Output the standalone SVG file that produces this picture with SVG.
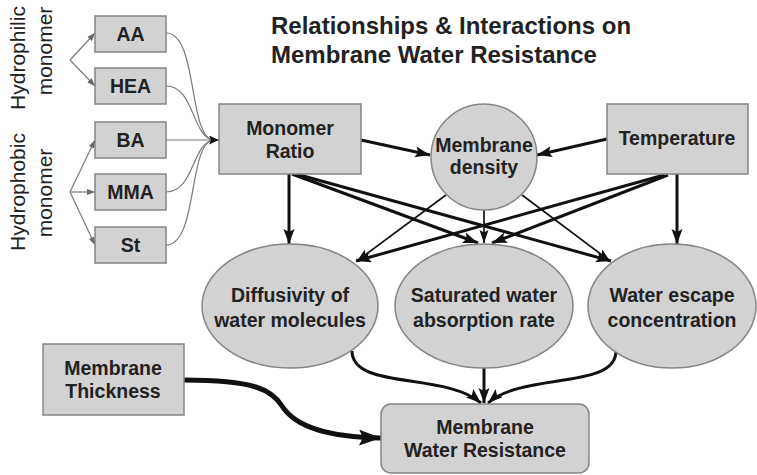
<svg xmlns="http://www.w3.org/2000/svg" width="757" height="475" viewBox="0 0 757 475">
<defs>
<style>
.n{fill:#d2d2d2;stroke:#858585;stroke-width:1.5}
.t{font-family:"Liberation Sans",Arial,sans-serif;font-weight:bold;font-size:19.5px;fill:#222;text-anchor:middle}
.side{font-family:"Liberation Sans",Arial,sans-serif;font-size:21px;fill:#222;text-anchor:middle}
.title{font-family:"Liberation Sans",Arial,sans-serif;font-weight:bold;font-size:24px;fill:#222}
.thick{fill:none;stroke:#111;stroke-width:3}
.thin{fill:none;stroke:#111;stroke-width:1.7}
.gray{fill:none;stroke:#7a7a7a;stroke-width:1.2}
</style>
<marker id="ah" markerUnits="userSpaceOnUse" markerWidth="18" markerHeight="13" refX="15" refY="5.5" orient="auto"><path d="M0,0 L15,5.5 L0,11 L3,5.5 z" fill="#111"/></marker>
<marker id="ahs" markerUnits="userSpaceOnUse" markerWidth="15" markerHeight="11" refX="13" refY="4.5" orient="auto"><path d="M0,0 L13,4.5 L0,9 L2.5,4.5 z" fill="#111"/></marker>
<marker id="ahb" markerUnits="userSpaceOnUse" markerWidth="24" markerHeight="20" refX="22" refY="8" orient="auto"><path d="M0,0 L22,8 L0,16 L4,8 z" fill="#111"/></marker>
<marker id="ahg" markerUnits="userSpaceOnUse" markerWidth="10" markerHeight="8" refX="8" refY="3" orient="auto"><path d="M0,0 L8,3 L0,6 z" fill="#666"/></marker>
<marker id="ahk" markerUnits="userSpaceOnUse" markerWidth="12" markerHeight="10" refX="10" refY="4.5" orient="auto"><path d="M0,0 L10,4.5 L0,9 L2,4.5 z" fill="#111"/></marker>
</defs>
<rect width="757" height="475" fill="#fff"/>

<g id="title">
<text class="title" x="271" y="34">Relationships &amp; Interactions on</text>
<text class="title" x="271" y="63">Membrane Water Resistance</text>
</g>

<g id="side-labels">
<text class="side" transform="translate(25,58) rotate(-90)">Hydrophilic</text>
<text class="side" transform="translate(52,51) rotate(-90)">monomer</text>
<text class="side" transform="translate(25,192) rotate(-90)">Hydrophobic</text>
<text class="side" transform="translate(52,193) rotate(-90)">monomer</text>
</g>

<g id="connectors">
<path class="gray" d="M70,60 L95,33" marker-end="url(#ahg)"/>
<path class="gray" d="M70,60 L95,86" marker-end="url(#ahg)"/>
<path class="gray" d="M70,192 L95,140" marker-end="url(#ahg)"/>
<path class="gray" d="M70,192 L95,192" marker-end="url(#ahg)"/>
<path class="gray" d="M70,192 L95,245" marker-end="url(#ahg)"/>
<path class="gray" d="M166,33 C198,33 188,136 213,140"/>
<path class="gray" d="M166,86 C194,86 192,136 213,140"/>
<path class="gray" d="M166,192 C194,192 192,144 213,140"/>
<path class="gray" d="M166,245 C198,245 188,144 213,140"/>
<path class="gray" d="M166,140 L219,140" marker-end="url(#ahk)"/>

<path class="thick" d="M361,140 L430,155" marker-end="url(#ah)"/>
<path class="thick" d="M607,139 L537,155" marker-end="url(#ah)"/>
<path class="thick" d="M289,174 L289,244" marker-end="url(#ah)"/>
<path class="thick" d="M677,174 L677,244" marker-end="url(#ah)"/>
<path class="thick" d="M292,174 L478,243" marker-end="url(#ah)"/>
<path class="thick" d="M296,174 L611,261" marker-end="url(#ah)"/>
<path class="thick" d="M668,175 L492,243" marker-end="url(#ah)"/>
<path class="thick" d="M664,175 L356,261" marker-end="url(#ah)"/>
<path class="thin" d="M446,195 L357,261" marker-end="url(#ahs)"/>
<path class="thin" d="M484,210 L484,243" marker-end="url(#ahs)"/>
<path class="thin" d="M522,195 L610,261" marker-end="url(#ahs)"/>

<path class="thick" d="M352,351 C352,390 445,372 481,403" marker-end="url(#ah)"/>
<path class="thick" d="M484,368 L484,403" marker-end="url(#ah)"/>
<path class="thick" d="M616,351 C616,390 523,372 488,403" marker-end="url(#ah)"/>
<path fill="none" stroke="#111" stroke-width="5" d="M184,380 C255,380 272,390 282,406 C296,428 330,437 381,438" marker-end="url(#ahb)"/>
</g>

<g id="node-AA"><rect class="n" x="95" y="16" width="71" height="36"/><text class="t" x="130.5" y="41">AA</text></g>
<g id="node-HEA"><rect class="n" x="95" y="68" width="71" height="36"/><text class="t" x="130.5" y="93">HEA</text></g>
<g id="node-BA"><rect class="n" x="95" y="122" width="71" height="36"/><text class="t" x="130.5" y="147">BA</text></g>
<g id="node-MMA"><rect class="n" x="95" y="174" width="71" height="36"/><text class="t" x="130.5" y="199">MMA</text></g>
<g id="node-St"><rect class="n" x="95" y="227" width="71" height="36"/><text class="t" x="130.5" y="252">St</text></g>

<g id="node-monomer-ratio"><rect class="n" x="219" y="104" width="142" height="70"/><text class="t" x="290" y="135">Monomer</text><text class="t" x="290" y="158">Ratio</text></g>
<g id="node-membrane-density"><circle class="n" cx="484" cy="157" r="53"/><text class="t" x="484" y="152">Membrane</text><text class="t" x="484" y="174">density</text></g>
<g id="node-temperature"><rect class="n" x="607" y="104" width="141" height="70"/><text class="t" x="677" y="145">Temperature</text></g>

<g id="node-diffusivity"><ellipse class="n" cx="290" cy="306" rx="88" ry="62"/><text class="t" x="290" y="302">Diffusivity of</text><text class="t" x="290" y="327">water molecules</text></g>
<g id="node-saturated"><ellipse class="n" cx="484" cy="306" rx="89" ry="62"/><text class="t" x="484" y="302">Saturated water</text><text class="t" x="484" y="327">absorption rate</text></g>
<g id="node-water-escape"><ellipse class="n" cx="672" cy="306" rx="84" ry="62"/><text class="t" x="672" y="302">Water escape</text><text class="t" x="672" y="327">concentration</text></g>

<g id="node-membrane-thickness"><rect class="n" x="43" y="344" width="141" height="71"/><text class="t" x="113" y="375">Membrane</text><text class="t" x="113" y="398">Thickness</text></g>
<g id="node-membrane-water-resistance"><rect class="n" x="381" y="404" width="208" height="69" rx="10" ry="10"/><text class="t" x="485" y="434">Membrane</text><text class="t" x="485" y="457">Water Resistance</text></g>
</svg>
